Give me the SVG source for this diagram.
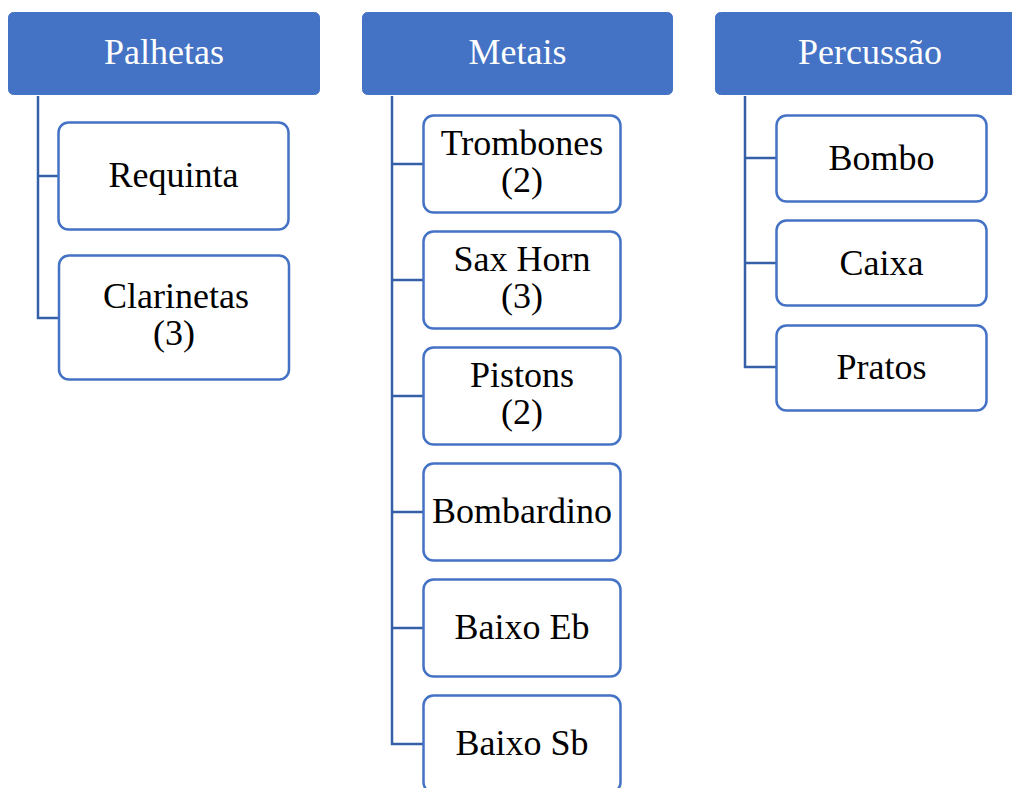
<svg xmlns="http://www.w3.org/2000/svg" width="1012" height="788" viewBox="0 0 1012 788">
<style>
.hdr{fill:#4472C4;stroke:#4472C4;stroke-width:1}
.box{fill:#fff;stroke:#4472C4;stroke-width:2.5}
.ht{font-size:36px;fill:#fff;text-anchor:middle}
.bt{font-size:36px;fill:#000;text-anchor:middle}
.con{fill:none;stroke:#3560A8;stroke-width:2.5}
</style>
<rect width="1012" height="788" fill="#fff"/>
<g id="connectors">
<path class="con" d="M38,96 V318 H58 M38,176 H58"/>
<path class="con" d="M392,96 V744 H423 M392,164 H423 M392,280 H423 M392,396 H423 M392,512 H423 M392,628 H423"/>
<path class="con" d="M745,96 V367 H776 M745,158 H776 M745,263 H776"/>
</g>
<g font-family="Liberation Serif, Times New Roman, serif">
<g id="palhetas"><rect class="hdr" x="8.5" y="12.5" width="311" height="82" rx="5"/><text class="ht" x="164" y="64">Palhetas</text></g>
<g id="metais"><rect class="hdr" x="362.5" y="12.5" width="310" height="82" rx="5"/><text class="ht" x="517.5" y="64">Metais</text></g>
<g id="percussao"><rect class="hdr" x="715.5" y="12.5" width="311" height="82" rx="5"/><text class="ht" x="870" y="64">Percussão</text></g>
<g id="requinta"><rect class="box" x="58.5" y="122.5" width="230" height="107" rx="10"/><text class="bt" x="173.5" y="187">Requinta</text></g>
<g id="clarinetas"><rect class="box" x="59" y="255.5" width="230" height="124" rx="10"/><text class="bt" x="176" y="308">Clarinetas</text><text class="bt" x="174" y="345">(3)</text></g>
<g id="trombones"><rect class="box" x="423.5" y="115.5" width="197" height="97" rx="10"/><text class="bt" x="522" y="155">Trombones</text><text class="bt" x="522" y="192">(2)</text></g>
<g id="saxhorn"><rect class="box" x="423.5" y="231.5" width="197" height="97" rx="10"/><text class="bt" x="522" y="271">Sax Horn</text><text class="bt" x="522" y="308">(3)</text></g>
<g id="pistons"><rect class="box" x="423.5" y="347.5" width="197" height="97" rx="10"/><text class="bt" x="522" y="387">Pistons</text><text class="bt" x="522" y="424">(2)</text></g>
<g id="bombardino"><rect class="box" x="423.5" y="463.5" width="197" height="97" rx="10"/><text class="bt" x="522" y="523">Bombardino</text></g>
<g id="baixoeb"><rect class="box" x="423.5" y="579.5" width="197" height="97" rx="10"/><text class="bt" x="522" y="639">Baixo Eb</text></g>
<g id="baixosb"><rect class="box" x="423.5" y="695.5" width="197" height="97" rx="10"/><text class="bt" x="522" y="755">Baixo Sb</text></g>
<g id="bombo"><rect class="box" x="776.5" y="115.5" width="210" height="86" rx="10"/><text class="bt" x="881.5" y="170">Bombo</text></g>
<g id="caixa"><rect class="box" x="776.5" y="220.5" width="210" height="85" rx="10"/><text class="bt" x="881.5" y="275">Caixa</text></g>
<g id="pratos"><rect class="box" x="776.5" y="325.5" width="210" height="85" rx="10"/><text class="bt" x="881.5" y="379">Pratos</text></g>
</g>
</svg>
